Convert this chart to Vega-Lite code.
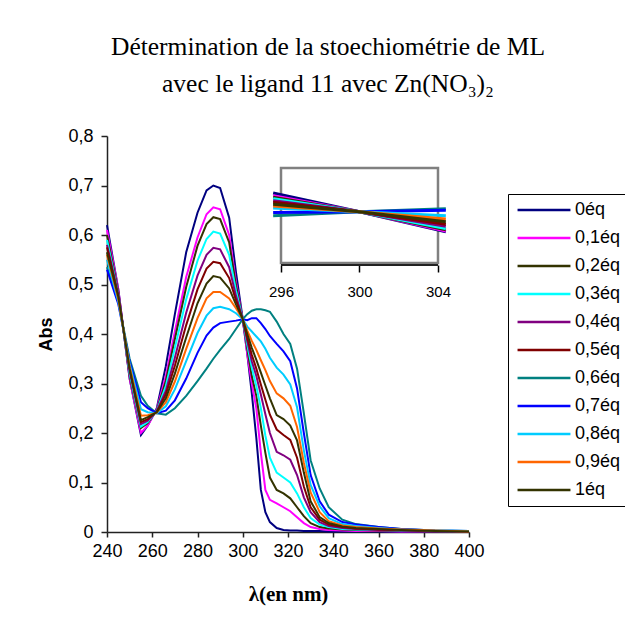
{
"$schema":"https://vega.github.io/schema/vega-lite/v6.json",
"width":362,"height":396,
"autosize":{"type":"none"},
"padding":{"left":107,"top":136,"right":156,"bottom":89},
"background":"white",
"title":{"text":["Détermination de la stoechiométrie de ML","avec le ligand 11 avec Zn(NO₃)₂"],"font":"Liberation Serif","fontSize":25.5,"fontWeight":"normal","lineHeight":37,"color":"#000","anchor":"middle","frame":"group","dx":40,"offset":30},
"datasets":{
"main":[
{"e":"0éq","w":240,"a":0.62},{"e":"0éq","w":245,"a":0.49},{"e":"0éq","w":250,"a":0.31},{"e":"0éq","w":255,"a":0.196},{"e":"0éq","w":258,"a":0.215},{"e":"0éq","w":262,"a":0.25},{"e":"0éq","w":266,"a":0.335},{"e":"0éq","w":270,"a":0.44},{"e":"0éq","w":275,"a":0.565},{"e":"0éq","w":280,"a":0.645},{"e":"0éq","w":284,"a":0.69},{"e":"0éq","w":287,"a":0.7},{"e":"0éq","w":290,"a":0.695},{"e":"0éq","w":294,"a":0.635},{"e":"0éq","w":297,"a":0.525},{"e":"0éq","w":300,"a":0.43},{"e":"0éq","w":302,"a":0.36},{"e":"0éq","w":304,"a":0.28},{"e":"0éq","w":306,"a":0.19},{"e":"0éq","w":308,"a":0.085},{"e":"0éq","w":310,"a":0.04},{"e":"0éq","w":312,"a":0.02},{"e":"0éq","w":315,"a":0.008},{"e":"0éq","w":318,"a":0.004},{"e":"0éq","w":321,"a":0.003},{"e":"0éq","w":324,"a":0.003},{"e":"0éq","w":327,"a":0.002},{"e":"0éq","w":330,"a":0.002},{"e":"0éq","w":334,"a":0.002},{"e":"0éq","w":338,"a":0.001},{"e":"0éq","w":344,"a":0.001},{"e":"0éq","w":350,"a":0.001},{"e":"0éq","w":360,"a":0.001},{"e":"0éq","w":370,"a":0},{"e":"0éq","w":385,"a":0},{"e":"0éq","w":400,"a":0},
{"e":"0,1éq","w":240,"a":0.61},{"e":"0,1éq","w":245,"a":0.49},{"e":"0,1éq","w":250,"a":0.31},{"e":"0,1éq","w":255,"a":0.2},{"e":"0,1éq","w":258,"a":0.215},{"e":"0,1éq","w":262,"a":0.248},{"e":"0,1éq","w":266,"a":0.315},{"e":"0,1éq","w":270,"a":0.405},{"e":"0,1éq","w":275,"a":0.515},{"e":"0,1éq","w":280,"a":0.595},{"e":"0,1éq","w":284,"a":0.642},{"e":"0,1éq","w":287,"a":0.656},{"e":"0,1éq","w":290,"a":0.652},{"e":"0,1éq","w":294,"a":0.6},{"e":"0,1éq","w":297,"a":0.505},{"e":"0,1éq","w":300,"a":0.43},{"e":"0,1éq","w":302,"a":0.36},{"e":"0,1éq","w":304,"a":0.3},{"e":"0,1éq","w":306,"a":0.25},{"e":"0,1éq","w":308,"a":0.16},{"e":"0,1éq","w":310,"a":0.085},{"e":"0,1éq","w":312,"a":0.065},{"e":"0,1éq","w":315,"a":0.058},{"e":"0,1éq","w":318,"a":0.05},{"e":"0,1éq","w":321,"a":0.042},{"e":"0,1éq","w":324,"a":0.03},{"e":"0,1éq","w":327,"a":0.018},{"e":"0,1éq","w":330,"a":0.01},{"e":"0,1éq","w":334,"a":0.006},{"e":"0,1éq","w":338,"a":0.004},{"e":"0,1éq","w":344,"a":0.003},{"e":"0,1éq","w":350,"a":0.002},{"e":"0,1éq","w":360,"a":0.002},{"e":"0,1éq","w":370,"a":0.001},{"e":"0,1éq","w":385,"a":0.001},{"e":"0,1éq","w":400,"a":0.001},
{"e":"0,2éq","w":240,"a":0.6},{"e":"0,2éq","w":245,"a":0.485},{"e":"0,2éq","w":250,"a":0.315},{"e":"0,2éq","w":255,"a":0.21},{"e":"0,2éq","w":258,"a":0.22},{"e":"0,2éq","w":262,"a":0.246},{"e":"0,2éq","w":266,"a":0.305},{"e":"0,2éq","w":270,"a":0.39},{"e":"0,2éq","w":275,"a":0.495},{"e":"0,2éq","w":280,"a":0.578},{"e":"0,2éq","w":284,"a":0.622},{"e":"0,2éq","w":287,"a":0.636},{"e":"0,2éq","w":290,"a":0.632},{"e":"0,2éq","w":294,"a":0.585},{"e":"0,2éq","w":297,"a":0.498},{"e":"0,2éq","w":300,"a":0.43},{"e":"0,2éq","w":302,"a":0.37},{"e":"0,2éq","w":304,"a":0.315},{"e":"0,2éq","w":306,"a":0.275},{"e":"0,2éq","w":308,"a":0.215},{"e":"0,2éq","w":310,"a":0.16},{"e":"0,2éq","w":312,"a":0.11},{"e":"0,2éq","w":315,"a":0.085},{"e":"0,2éq","w":318,"a":0.078},{"e":"0,2éq","w":321,"a":0.068},{"e":"0,2éq","w":324,"a":0.05},{"e":"0,2éq","w":327,"a":0.032},{"e":"0,2éq","w":330,"a":0.018},{"e":"0,2éq","w":334,"a":0.01},{"e":"0,2éq","w":338,"a":0.007},{"e":"0,2éq","w":344,"a":0.005},{"e":"0,2éq","w":350,"a":0.004},{"e":"0,2éq","w":360,"a":0.003},{"e":"0,2éq","w":370,"a":0.002},{"e":"0,2éq","w":385,"a":0.001},{"e":"0,2éq","w":400,"a":0.001},
{"e":"0,3éq","w":240,"a":0.59},{"e":"0,3éq","w":245,"a":0.48},{"e":"0,3éq","w":250,"a":0.32},{"e":"0,3éq","w":255,"a":0.213},{"e":"0,3éq","w":258,"a":0.222},{"e":"0,3éq","w":262,"a":0.245},{"e":"0,3éq","w":266,"a":0.295},{"e":"0,3éq","w":270,"a":0.372},{"e":"0,3éq","w":275,"a":0.47},{"e":"0,3éq","w":280,"a":0.548},{"e":"0,3éq","w":284,"a":0.592},{"e":"0,3éq","w":287,"a":0.607},{"e":"0,3éq","w":290,"a":0.603},{"e":"0,3éq","w":294,"a":0.56},{"e":"0,3éq","w":297,"a":0.488},{"e":"0,3éq","w":300,"a":0.43},{"e":"0,3éq","w":302,"a":0.378},{"e":"0,3éq","w":304,"a":0.332},{"e":"0,3éq","w":306,"a":0.295},{"e":"0,3éq","w":308,"a":0.25},{"e":"0,3éq","w":310,"a":0.195},{"e":"0,3éq","w":312,"a":0.15},{"e":"0,3éq","w":315,"a":0.12},{"e":"0,3éq","w":318,"a":0.11},{"e":"0,3éq","w":321,"a":0.1},{"e":"0,3éq","w":324,"a":0.078},{"e":"0,3éq","w":327,"a":0.05},{"e":"0,3éq","w":330,"a":0.028},{"e":"0,3éq","w":334,"a":0.015},{"e":"0,3éq","w":338,"a":0.01},{"e":"0,3éq","w":344,"a":0.006},{"e":"0,3éq","w":350,"a":0.005},{"e":"0,3éq","w":360,"a":0.004},{"e":"0,3éq","w":370,"a":0.003},{"e":"0,3éq","w":385,"a":0.002},{"e":"0,3éq","w":400,"a":0.001},
{"e":"0,4éq","w":240,"a":0.58},{"e":"0,4éq","w":245,"a":0.48},{"e":"0,4éq","w":250,"a":0.325},{"e":"0,4éq","w":255,"a":0.218},{"e":"0,4éq","w":258,"a":0.225},{"e":"0,4éq","w":262,"a":0.244},{"e":"0,4éq","w":266,"a":0.285},{"e":"0,4éq","w":270,"a":0.352},{"e":"0,4éq","w":275,"a":0.443},{"e":"0,4éq","w":280,"a":0.518},{"e":"0,4éq","w":284,"a":0.56},{"e":"0,4éq","w":287,"a":0.574},{"e":"0,4éq","w":290,"a":0.571},{"e":"0,4éq","w":294,"a":0.535},{"e":"0,4éq","w":297,"a":0.477},{"e":"0,4éq","w":300,"a":0.43},{"e":"0,4éq","w":302,"a":0.386},{"e":"0,4éq","w":304,"a":0.345},{"e":"0,4éq","w":306,"a":0.315},{"e":"0,4éq","w":308,"a":0.278},{"e":"0,4éq","w":310,"a":0.238},{"e":"0,4éq","w":312,"a":0.2},{"e":"0,4éq","w":315,"a":0.162},{"e":"0,4éq","w":318,"a":0.155},{"e":"0,4éq","w":321,"a":0.146},{"e":"0,4éq","w":324,"a":0.115},{"e":"0,4éq","w":327,"a":0.07},{"e":"0,4éq","w":330,"a":0.04},{"e":"0,4éq","w":334,"a":0.02},{"e":"0,4éq","w":338,"a":0.012},{"e":"0,4éq","w":344,"a":0.008},{"e":"0,4éq","w":350,"a":0.006},{"e":"0,4éq","w":360,"a":0.004},{"e":"0,4éq","w":370,"a":0.003},{"e":"0,4éq","w":385,"a":0.002},{"e":"0,4éq","w":400,"a":0.001},
{"e":"0,5éq","w":240,"a":0.575},{"e":"0,5éq","w":245,"a":0.475},{"e":"0,5éq","w":250,"a":0.33},{"e":"0,5éq","w":255,"a":0.222},{"e":"0,5éq","w":258,"a":0.228},{"e":"0,5éq","w":262,"a":0.243},{"e":"0,5éq","w":266,"a":0.278},{"e":"0,5éq","w":270,"a":0.336},{"e":"0,5éq","w":275,"a":0.418},{"e":"0,5éq","w":280,"a":0.49},{"e":"0,5éq","w":284,"a":0.532},{"e":"0,5éq","w":287,"a":0.546},{"e":"0,5éq","w":290,"a":0.543},{"e":"0,5éq","w":294,"a":0.513},{"e":"0,5éq","w":297,"a":0.468},{"e":"0,5éq","w":300,"a":0.43},{"e":"0,5éq","w":302,"a":0.392},{"e":"0,5éq","w":304,"a":0.358},{"e":"0,5éq","w":306,"a":0.33},{"e":"0,5éq","w":308,"a":0.298},{"e":"0,5éq","w":310,"a":0.267},{"e":"0,5éq","w":312,"a":0.237},{"e":"0,5éq","w":315,"a":0.207},{"e":"0,5éq","w":318,"a":0.196},{"e":"0,5éq","w":321,"a":0.186},{"e":"0,5éq","w":324,"a":0.15},{"e":"0,5éq","w":327,"a":0.092},{"e":"0,5éq","w":330,"a":0.05},{"e":"0,5éq","w":334,"a":0.025},{"e":"0,5éq","w":338,"a":0.015},{"e":"0,5éq","w":344,"a":0.01},{"e":"0,5éq","w":350,"a":0.007},{"e":"0,5éq","w":360,"a":0.005},{"e":"0,5éq","w":370,"a":0.004},{"e":"0,5éq","w":385,"a":0.002},{"e":"0,5éq","w":400,"a":0.001},
{"e":"0,6éq","w":240,"a":0.535},{"e":"0,6éq","w":245,"a":0.465},{"e":"0,6éq","w":250,"a":0.35},{"e":"0,6éq","w":255,"a":0.275},{"e":"0,6éq","w":258,"a":0.255},{"e":"0,6éq","w":262,"a":0.24},{"e":"0,6éq","w":266,"a":0.237},{"e":"0,6éq","w":270,"a":0.25},{"e":"0,6éq","w":275,"a":0.275},{"e":"0,6éq","w":280,"a":0.305},{"e":"0,6éq","w":284,"a":0.33},{"e":"0,6éq","w":287,"a":0.35},{"e":"0,6éq","w":290,"a":0.368},{"e":"0,6éq","w":294,"a":0.39},{"e":"0,6éq","w":297,"a":0.41},{"e":"0,6éq","w":300,"a":0.43},{"e":"0,6éq","w":302,"a":0.44},{"e":"0,6éq","w":304,"a":0.447},{"e":"0,6éq","w":306,"a":0.45},{"e":"0,6éq","w":308,"a":0.45},{"e":"0,6éq","w":310,"a":0.448},{"e":"0,6éq","w":312,"a":0.445},{"e":"0,6éq","w":315,"a":0.425},{"e":"0,6éq","w":318,"a":0.4},{"e":"0,6éq","w":321,"a":0.38},{"e":"0,6éq","w":324,"a":0.33},{"e":"0,6éq","w":327,"a":0.24},{"e":"0,6éq","w":330,"a":0.145},{"e":"0,6éq","w":334,"a":0.088},{"e":"0,6éq","w":338,"a":0.05},{"e":"0,6éq","w":344,"a":0.025},{"e":"0,6éq","w":350,"a":0.016},{"e":"0,6éq","w":360,"a":0.01},{"e":"0,6éq","w":370,"a":0.006},{"e":"0,6éq","w":385,"a":0.003},{"e":"0,6éq","w":400,"a":0.002},
{"e":"0,7éq","w":240,"a":0.53},{"e":"0,7éq","w":245,"a":0.46},{"e":"0,7éq","w":250,"a":0.345},{"e":"0,7éq","w":255,"a":0.262},{"e":"0,7éq","w":258,"a":0.25},{"e":"0,7éq","w":262,"a":0.24},{"e":"0,7éq","w":266,"a":0.245},{"e":"0,7éq","w":270,"a":0.266},{"e":"0,7éq","w":275,"a":0.31},{"e":"0,7éq","w":280,"a":0.362},{"e":"0,7éq","w":284,"a":0.397},{"e":"0,7éq","w":287,"a":0.413},{"e":"0,7éq","w":290,"a":0.422},{"e":"0,7éq","w":294,"a":0.425},{"e":"0,7éq","w":297,"a":0.427},{"e":"0,7éq","w":300,"a":0.43},{"e":"0,7éq","w":302,"a":0.428},{"e":"0,7éq","w":304,"a":0.432},{"e":"0,7éq","w":306,"a":0.432},{"e":"0,7éq","w":308,"a":0.422},{"e":"0,7éq","w":310,"a":0.41},{"e":"0,7éq","w":312,"a":0.396},{"e":"0,7éq","w":315,"a":0.38},{"e":"0,7éq","w":318,"a":0.365},{"e":"0,7éq","w":321,"a":0.345},{"e":"0,7éq","w":324,"a":0.29},{"e":"0,7éq","w":327,"a":0.2},{"e":"0,7éq","w":330,"a":0.115},{"e":"0,7éq","w":334,"a":0.062},{"e":"0,7éq","w":338,"a":0.035},{"e":"0,7éq","w":344,"a":0.02},{"e":"0,7éq","w":350,"a":0.015},{"e":"0,7éq","w":360,"a":0.01},{"e":"0,7éq","w":370,"a":0.006},{"e":"0,7éq","w":385,"a":0.003},{"e":"0,7éq","w":400,"a":0.002},
{"e":"0,8éq","w":240,"a":0.55},{"e":"0,8éq","w":245,"a":0.465},{"e":"0,8éq","w":250,"a":0.34},{"e":"0,8éq","w":255,"a":0.248},{"e":"0,8éq","w":258,"a":0.242},{"e":"0,8éq","w":262,"a":0.24},{"e":"0,8éq","w":266,"a":0.254},{"e":"0,8éq","w":270,"a":0.288},{"e":"0,8éq","w":275,"a":0.345},{"e":"0,8éq","w":280,"a":0.402},{"e":"0,8éq","w":284,"a":0.437},{"e":"0,8éq","w":287,"a":0.452},{"e":"0,8éq","w":290,"a":0.455},{"e":"0,8éq","w":294,"a":0.45},{"e":"0,8éq","w":297,"a":0.442},{"e":"0,8éq","w":300,"a":0.43},{"e":"0,8éq","w":302,"a":0.415},{"e":"0,8éq","w":304,"a":0.405},{"e":"0,8éq","w":306,"a":0.395},{"e":"0,8éq","w":308,"a":0.385},{"e":"0,8éq","w":310,"a":0.37},{"e":"0,8éq","w":312,"a":0.352},{"e":"0,8éq","w":315,"a":0.332},{"e":"0,8éq","w":318,"a":0.318},{"e":"0,8éq","w":321,"a":0.298},{"e":"0,8éq","w":324,"a":0.252},{"e":"0,8éq","w":327,"a":0.165},{"e":"0,8éq","w":330,"a":0.095},{"e":"0,8éq","w":334,"a":0.052},{"e":"0,8éq","w":338,"a":0.028},{"e":"0,8éq","w":344,"a":0.016},{"e":"0,8éq","w":350,"a":0.012},{"e":"0,8éq","w":360,"a":0.008},{"e":"0,8éq","w":370,"a":0.005},{"e":"0,8éq","w":385,"a":0.003},{"e":"0,8éq","w":400,"a":0.002},
{"e":"0,9éq","w":240,"a":0.56},{"e":"0,9éq","w":245,"a":0.47},{"e":"0,9éq","w":250,"a":0.335},{"e":"0,9éq","w":255,"a":0.235},{"e":"0,9éq","w":258,"a":0.236},{"e":"0,9éq","w":262,"a":0.241},{"e":"0,9éq","w":266,"a":0.262},{"e":"0,9éq","w":270,"a":0.304},{"e":"0,9éq","w":275,"a":0.37},{"e":"0,9éq","w":280,"a":0.432},{"e":"0,9éq","w":284,"a":0.472},{"e":"0,9éq","w":287,"a":0.485},{"e":"0,9éq","w":290,"a":0.485},{"e":"0,9éq","w":294,"a":0.472},{"e":"0,9éq","w":297,"a":0.452},{"e":"0,9éq","w":300,"a":0.43},{"e":"0,9éq","w":302,"a":0.407},{"e":"0,9éq","w":304,"a":0.386},{"e":"0,9éq","w":306,"a":0.368},{"e":"0,9éq","w":308,"a":0.347},{"e":"0,9éq","w":310,"a":0.327},{"e":"0,9éq","w":312,"a":0.305},{"e":"0,9éq","w":315,"a":0.28},{"e":"0,9éq","w":318,"a":0.27},{"e":"0,9éq","w":321,"a":0.255},{"e":"0,9éq","w":324,"a":0.212},{"e":"0,9éq","w":327,"a":0.14},{"e":"0,9éq","w":330,"a":0.08},{"e":"0,9éq","w":334,"a":0.04},{"e":"0,9éq","w":338,"a":0.022},{"e":"0,9éq","w":344,"a":0.013},{"e":"0,9éq","w":350,"a":0.01},{"e":"0,9éq","w":360,"a":0.007},{"e":"0,9éq","w":370,"a":0.005},{"e":"0,9éq","w":385,"a":0.003},{"e":"0,9éq","w":400,"a":0.001},
{"e":"1éq","w":240,"a":0.565},{"e":"1éq","w":245,"a":0.475},{"e":"1éq","w":250,"a":0.33},{"e":"1éq","w":255,"a":0.226},{"e":"1éq","w":258,"a":0.232},{"e":"1éq","w":262,"a":0.242},{"e":"1éq","w":266,"a":0.27},{"e":"1éq","w":270,"a":0.32},{"e":"1éq","w":275,"a":0.393},{"e":"1éq","w":280,"a":0.462},{"e":"1éq","w":284,"a":0.502},{"e":"1éq","w":287,"a":0.517},{"e":"1éq","w":290,"a":0.514},{"e":"1éq","w":294,"a":0.492},{"e":"1éq","w":297,"a":0.46},{"e":"1éq","w":300,"a":0.43},{"e":"1éq","w":302,"a":0.4},{"e":"1éq","w":304,"a":0.372},{"e":"1éq","w":306,"a":0.348},{"e":"1éq","w":308,"a":0.322},{"e":"1éq","w":310,"a":0.296},{"e":"1éq","w":312,"a":0.27},{"e":"1éq","w":315,"a":0.236},{"e":"1éq","w":318,"a":0.228},{"e":"1éq","w":321,"a":0.215},{"e":"1éq","w":324,"a":0.185},{"e":"1éq","w":327,"a":0.12},{"e":"1éq","w":330,"a":0.062},{"e":"1éq","w":334,"a":0.03},{"e":"1éq","w":338,"a":0.018},{"e":"1éq","w":344,"a":0.011},{"e":"1éq","w":350,"a":0.008},{"e":"1éq","w":360,"a":0.006},{"e":"1éq","w":370,"a":0.004},{"e":"1éq","w":385,"a":0.002},{"e":"1éq","w":400,"a":0.001}
],
"inset":[
{"e":"0éq","w":295.6,"a":0.545},{"e":"0éq","w":300,"a":0.43},{"e":"0éq","w":304.4,"a":0.305},
{"e":"0,1éq","w":295.6,"a":0.528},{"e":"0,1éq","w":300,"a":0.43},{"e":"0,1éq","w":304.4,"a":0.31},
{"e":"0,2éq","w":295.6,"a":0.52},{"e":"0,2éq","w":300,"a":0.43},{"e":"0,2éq","w":304.4,"a":0.318},
{"e":"0,3éq","w":295.6,"a":0.51},{"e":"0,3éq","w":300,"a":0.43},{"e":"0,3éq","w":304.4,"a":0.325},
{"e":"0,4éq","w":295.6,"a":0.498},{"e":"0,4éq","w":300,"a":0.43},{"e":"0,4éq","w":304.4,"a":0.34},
{"e":"0,5éq","w":295.6,"a":0.488},{"e":"0,5éq","w":300,"a":0.43},{"e":"0,5éq","w":304.4,"a":0.352},
{"e":"0,6éq","w":295.6,"a":0.405},{"e":"0,6éq","w":300,"a":0.43},{"e":"0,6éq","w":304.4,"a":0.448},
{"e":"0,7éq","w":295.6,"a":0.425},{"e":"0,7éq","w":300,"a":0.43},{"e":"0,7éq","w":304.4,"a":0.438},
{"e":"0,8éq","w":295.6,"a":0.452},{"e":"0,8éq","w":300,"a":0.43},{"e":"0,8éq","w":304.4,"a":0.405},
{"e":"0,9éq","w":295.6,"a":0.465},{"e":"0,9éq","w":300,"a":0.43},{"e":"0,9éq","w":304.4,"a":0.385},
{"e":"1éq","w":295.6,"a":0.476},{"e":"1éq","w":300,"a":0.43},{"e":"1éq","w":304.4,"a":0.368}
]
},
"layer":[
{
"data":{"name":"main"},
"mark":{"type":"line","strokeWidth":2},
"encoding":{
"x":{"field":"w","type":"quantitative","scale":{"domain":[240,400],"nice":false,"zero":false},
"axis":{"values":[240,260,280,300,320,340,360,380,400],"orient":"bottom","grid":false,"domainColor":"#222","domainWidth":1.5,"tickColor":"#222","tickWidth":1.5,"tickSize":5,"labelFont":"Liberation Sans","labelFontSize":18,"labelColor":"#000","labelPadding":5,"labelFlush":false,"labelOverlap":false,"title":"λ(en nm)","titleFont":"Liberation Serif","titleFontSize":21,"titleFontWeight":"bold","titleColor":"#000","titlePadding":23}},
"y":{"field":"a","type":"quantitative","scale":{"domain":[0,0.8],"nice":false},
"axis":{"values":[0,0.1,0.2,0.3,0.4,0.5,0.6,0.7,0.8],"labelExpr":"datum.value == 0 ? '0' : replace(format(datum.value, '.1f'), '.', ',')","grid":false,"domainColor":"#222","domainWidth":1.5,"tickColor":"#222","tickWidth":1.5,"tickSize":6,"labelFont":"Liberation Sans","labelFontSize":18,"labelColor":"#000","labelPadding":8,"labelFlush":false,"labelOverlap":false,"title":"Abs","titleFont":"Liberation Sans","titleFontSize":18,"titleFontWeight":"bold","titleColor":"#000","titlePadding":12}},
"color":{"field":"e","type":"nominal",
"scale":{"domain":["0éq","0,1éq","0,2éq","0,3éq","0,4éq","0,5éq","0,6éq","0,7éq","0,8éq","0,9éq","1éq"],"range":["#000080","#FF00FF","#333300","#00FFFF","#800080","#800000","#008080","#0000FF","#00CCFF","#FF6600","#333300"]},
"legend":{"orient":"none","legendX":401,"legendY":58,"title":null,"symbolType":"M-5,0H5","symbolSize":112,"symbolStrokeWidth":2.5,"symbolOffset":20,"labelOffset":22,"labelFont":"Liberation Sans","labelFontSize":18,"labelColor":"#000","strokeColor":"#000","fillColor":"white","padding":7,"rowPadding":10,"cornerRadius":0}}
}
},
{
"layer":[
{
"data":{"values":[{}]},
"mark":{"type":"rect","fill":"white","stroke":"#808080","strokeWidth":2.5,"clip":false},
"encoding":{
"x":{"datum":296,"type":"quantitative","axis":{"orient":"bottom","offset":-267,"values":[296,300,304],"domain":false,"grid":false,"tickColor":"#000","tickWidth":1.5,"tickSize":7,"labelFont":"Liberation Sans","labelFontSize":15,"labelColor":"#000","labelPadding":12,"labelFlush":false,"title":null}},
"x2":{"datum":304},
"y":{"datum":0.112,"type":"quantitative","axis":null},
"y2":{"datum":0.7}
}
},
{
"data":{"values":[{}]},
"mark":{"type":"rule","color":"#222","strokeWidth":2},
"encoding":{
"x":{"datum":296,"type":"quantitative","axis":{"orient":"bottom","offset":-267,"values":[296,300,304],"domain":false,"grid":false,"tickColor":"#000","tickWidth":1.5,"tickSize":7,"labelFont":"Liberation Sans","labelFontSize":15,"labelColor":"#000","labelPadding":12,"labelFlush":false,"title":null}},
"x2":{"datum":304},
"y":{"datum":0.1,"type":"quantitative","axis":null}
}
},
{
"data":{"name":"inset"},
"mark":{"type":"line","strokeWidth":3,"clip":false},
"encoding":{
"x":{"field":"w","type":"quantitative","scale":{"domain":[287.134,305.58],"nice":false,"zero":false},
"axis":{"orient":"bottom","offset":-267,"values":[296,300,304],"domain":false,"grid":false,"tickColor":"#000","tickWidth":1.5,"tickSize":7,"labelFont":"Liberation Sans","labelFontSize":15,"labelColor":"#000","labelPadding":12,"labelFlush":false,"title":null}},
"y":{"field":"a","type":"quantitative","scale":{"domain":[-1.5515,0.898],"nice":false,"zero":false},"axis":null},
"color":{"field":"e","type":"nominal"}
}
}
]
}
],
"resolve":{"scale":{"x":"independent","y":"independent"},"axis":{"x":"independent","y":"independent"}},
"config":{"view":{"stroke":null},"axis":{"grid":false},"font":"Liberation Sans"}
}
